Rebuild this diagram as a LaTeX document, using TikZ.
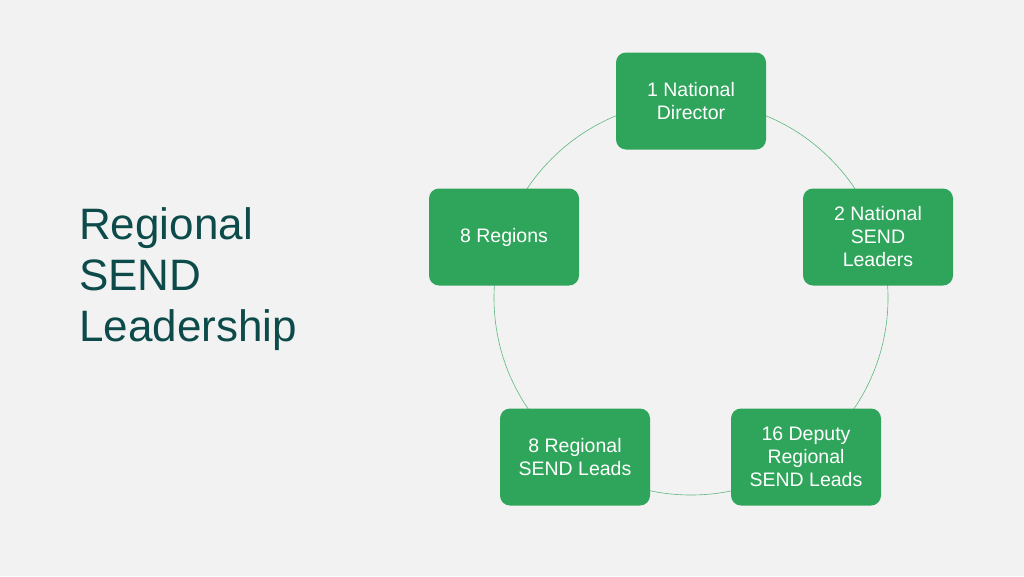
\documentclass[tikz,border=0pt]{standalone}
\usepackage{fontspec}
\setmainfont{Liberation Sans}
\definecolor{bg}{HTML}{F2F2F2}
\definecolor{boxg}{HTML}{2FA55B}
\definecolor{ring}{HTML}{5DB87E}
\definecolor{titlec}{HTML}{0D4B4B}
\begin{document}
\begin{tikzpicture}[x=1pt,y=-1pt,
  box/.style={fill=boxg,rounded corners=10pt,minimum width=150pt,minimum height=97pt,
    text=white,align=center,font=\fontsize{19.5}{23}\selectfont,inner sep=2pt}]
\fill[bg] (0,0) rectangle (1024,576);
\useasboundingbox (0,0) rectangle (1024,576);
\coordinate (c) at (691,298);
\draw[ring,line width=0.6pt] (c) circle[radius=197pt];
\node[box] (n1) at (691,101) {1 National\\Director};
\node[box] (n2) at (878,237) {2 National\\SEND\\Leaders};
\node[box] (n3) at (806,457) {16 Deputy\\Regional\\SEND Leads};
\node[box] (n4) at (575,457) {8 Regional\\SEND Leads};
\node[box] (n5) at (504,237) {8 Regions};
\node[anchor=north west,text=titlec,align=left,font=\fontsize{44}{51}\selectfont,inner sep=0pt] (t) at (79,207) {Regional\\SEND\\Leadership};
\end{tikzpicture}
\end{document}
